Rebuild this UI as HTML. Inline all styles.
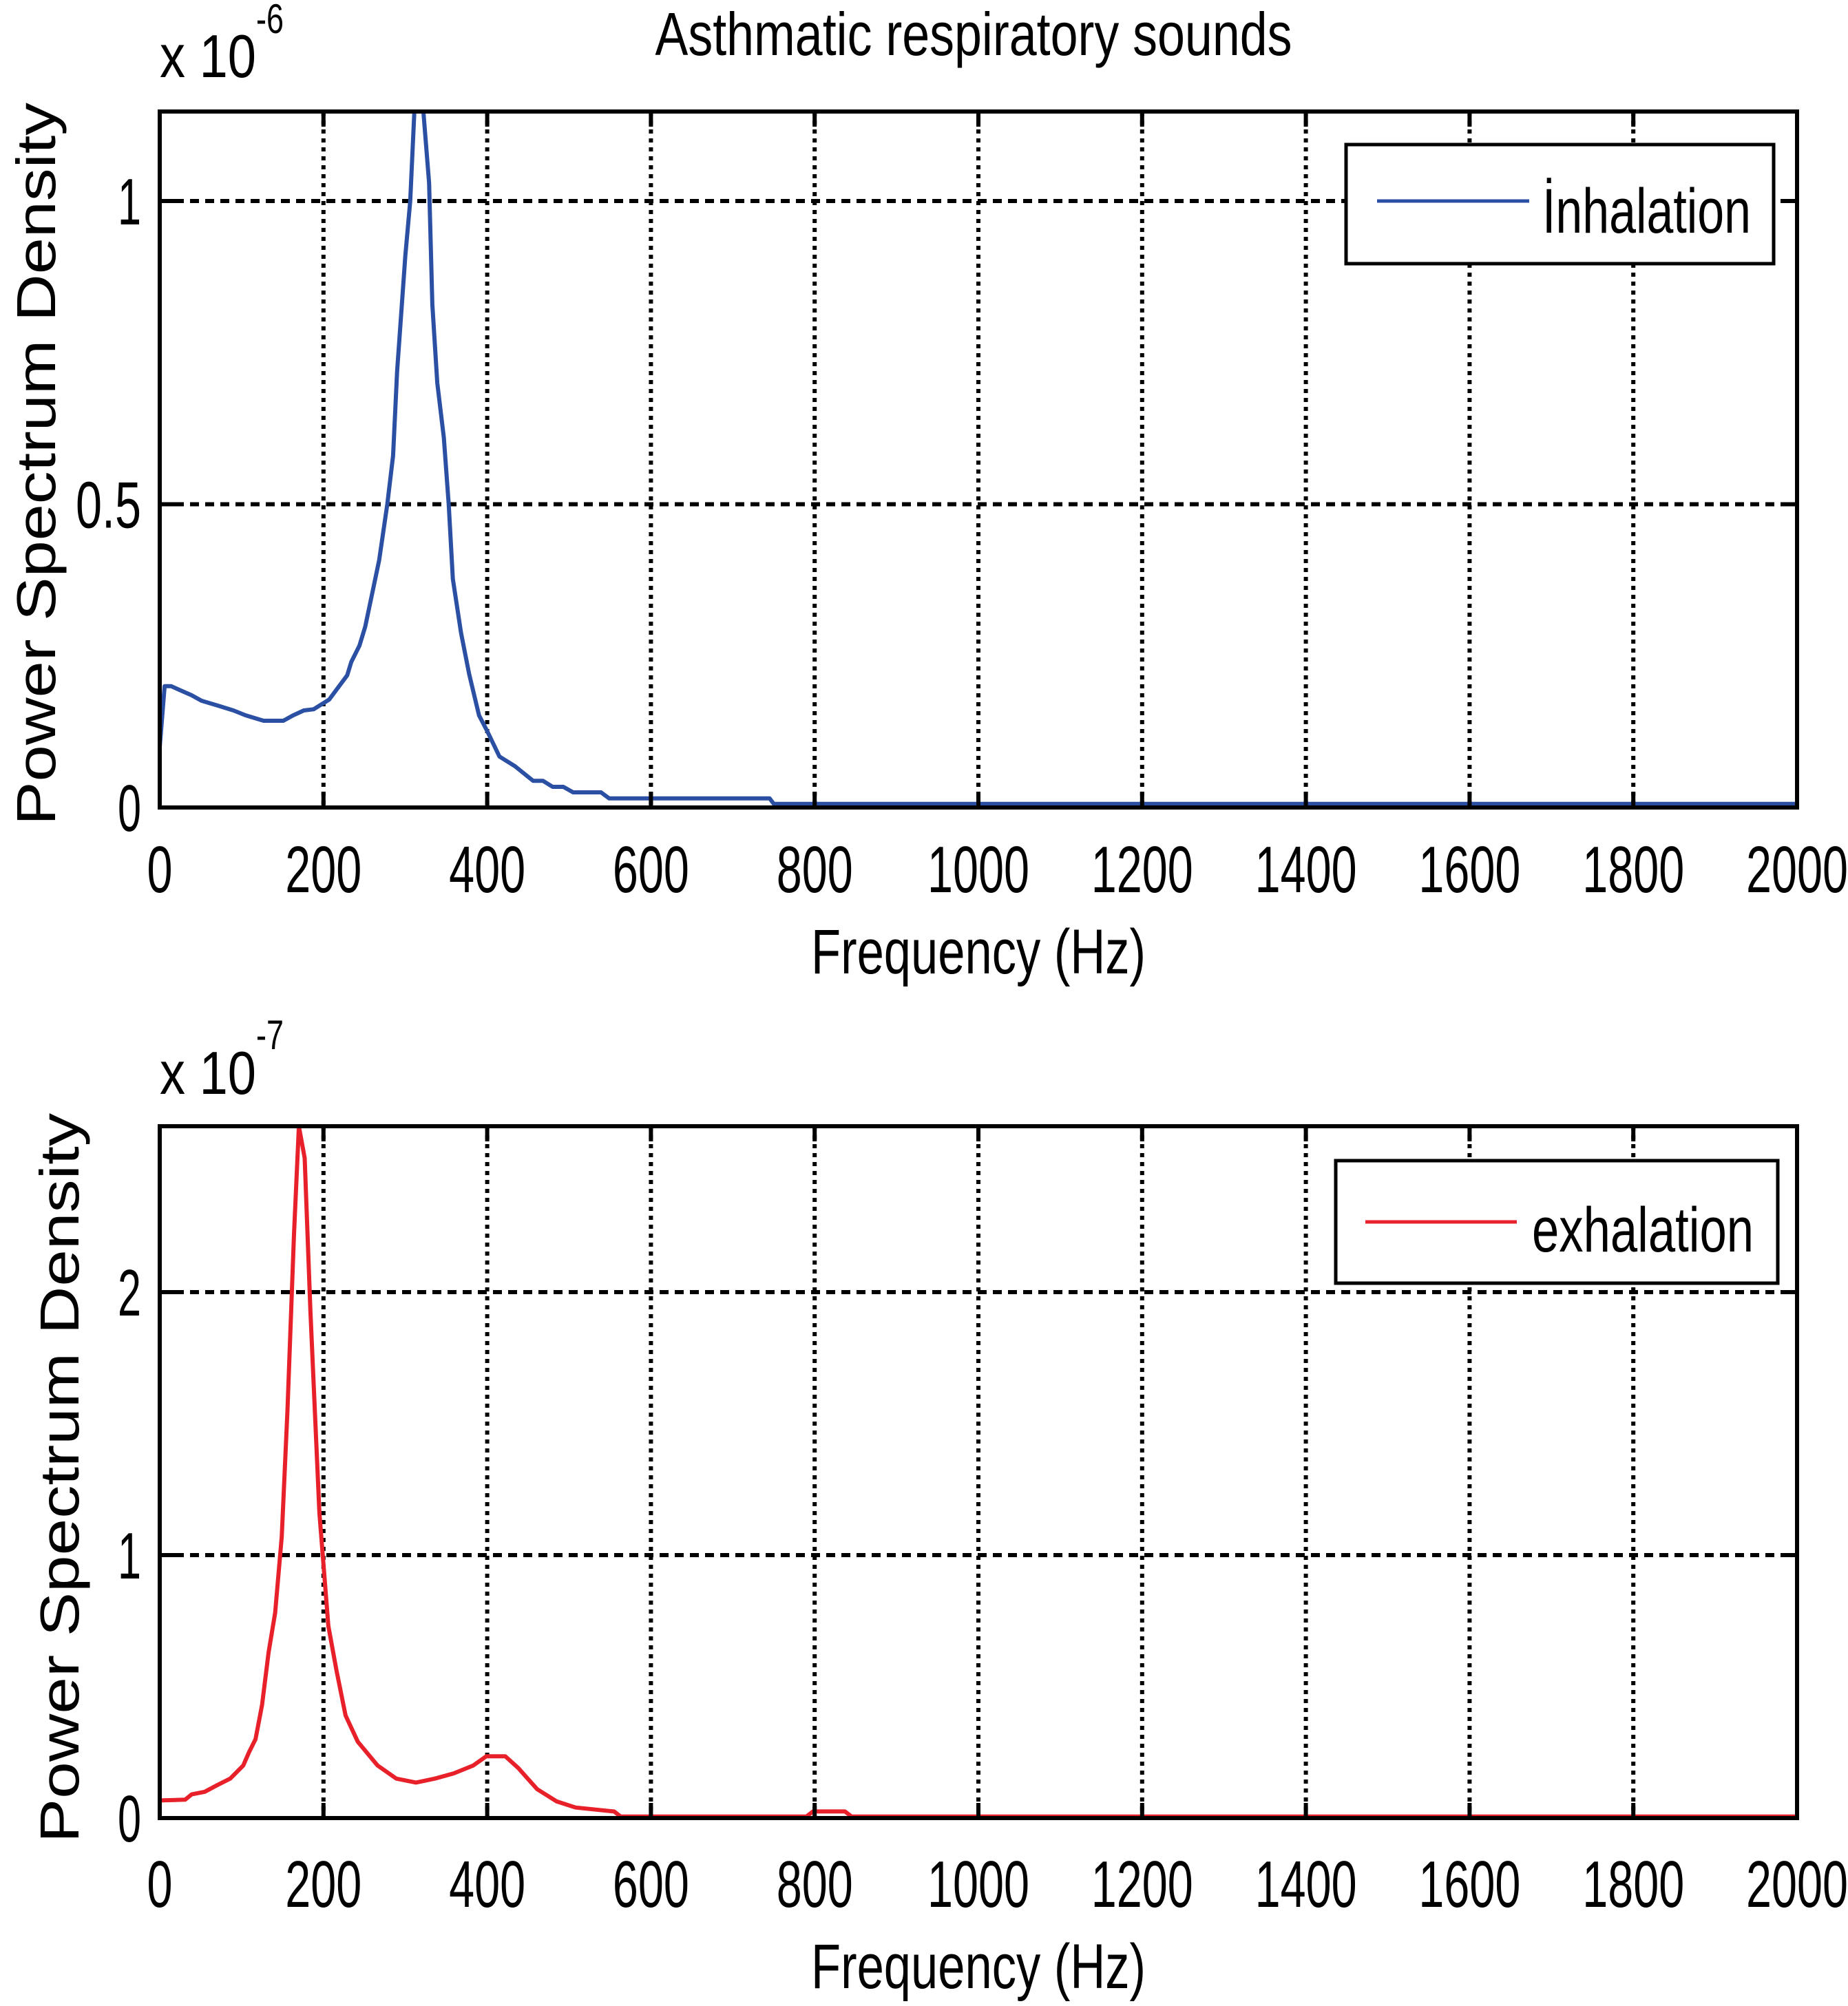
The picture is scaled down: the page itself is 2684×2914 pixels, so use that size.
<!DOCTYPE html>
<html><head><meta charset="utf-8"><style>
html,body{margin:0;padding:0;background:#fff;}
svg{display:block;}
text{font-family:"Liberation Sans",sans-serif;fill:#000;}
</style></head><body>
<svg id="s" width="2684" height="2914" viewBox="0 0 2684 2914" xmlns="http://www.w3.org/2000/svg">
<rect width="2684" height="2914" fill="#fff"/>
<g id="grid"></g>
<polyline id="p1" fill="none" stroke="#2b4fa3" stroke-width="6" stroke-linejoin="round"/>
<polyline id="p2" fill="none" stroke="#e8202a" stroke-width="6" stroke-linejoin="round"/>
<g id="axes"></g>

<text x="1414" y="80" font-size="88" text-anchor="middle" textLength="925" lengthAdjust="spacingAndGlyphs">Asthmatic respiratory sounds</text>
<text x="232" y="112" font-size="88" textLength="140" lengthAdjust="spacingAndGlyphs">x 10</text>
<text x="372" y="48" font-size="60" textLength="40" lengthAdjust="spacingAndGlyphs">-6</text>
<text x="232" y="1589" font-size="88" textLength="140" lengthAdjust="spacingAndGlyphs">x 10</text>
<text x="372" y="1524" font-size="60" textLength="40" lengthAdjust="spacingAndGlyphs">-7</text>

<text transform="translate(80,674) rotate(-90)" font-size="80" text-anchor="middle" textLength="1050" lengthAdjust="spacingAndGlyphs">Power Spectrum Density</text>
<text transform="translate(114,2147) rotate(-90)" font-size="80" text-anchor="middle" textLength="1060" lengthAdjust="spacingAndGlyphs">Power Spectrum Density</text>

<text x="1421" y="1414" font-size="92" text-anchor="middle" textLength="486" lengthAdjust="spacingAndGlyphs">Frequency (Hz)</text>
<text x="1421" y="2888" font-size="92" text-anchor="middle" textLength="486" lengthAdjust="spacingAndGlyphs">Frequency (Hz)</text>

<g id="labels"></g>

<rect x="1955" y="210" width="621" height="173" fill="#fff" stroke="#000" stroke-width="5"/>
<line x1="2000" y1="292" x2="2221" y2="292" stroke="#2b4fa3" stroke-width="5"/>
<text x="2240" y="338" font-size="92" textLength="303" lengthAdjust="spacingAndGlyphs">İnhalation</text>
<rect x="1940" y="1686" width="642" height="178" fill="#fff" stroke="#000" stroke-width="5"/>
<line x1="1983" y1="1775" x2="2203" y2="1775" stroke="#e8202a" stroke-width="5"/>
<text x="2225" y="1818" font-size="92" textLength="322" lengthAdjust="spacingAndGlyphs">exhalation</text>
</svg>
<script>
var NS="http://www.w3.org/2000/svg";
function el(p,t,a,txt){var e=document.createElementNS(NS,t);for(var k in a)e.setAttribute(k,a[k]);if(txt!==undefined)e.textContent=txt;p.appendChild(e);return e;}
var L=232,R=2610;
function X(f){return L+f*(R-L)/2000;}
var plots=[{top:162,bot:1173,pu:881,yt:[[0,"0"],[0.5,"0.5"],[1,"1"]],lab:1296},
           {top:1636,bot:2641,pu:382,yt:[[0,"0"],[1,"1"],[2,"2"]],lab:2770}];
var g=document.getElementById("grid"),ax=document.getElementById("axes"),lb=document.getElementById("labels");
plots.forEach(function(p){
  for(var f=200;f<2000;f+=200){el(g,"line",{x1:X(f),y1:p.top,x2:X(f),y2:p.bot,stroke:"#000","stroke-width":6,"stroke-dasharray":"6 7"});}
  p.yt.forEach(function(t){var y=p.bot-t[0]*p.pu;
    if(t[0]>0)el(g,"line",{x1:L,y1:y,x2:R,y2:y,stroke:"#000","stroke-width":6,"stroke-dasharray":"13 9"});
    el(ax,"line",{x1:L,y1:y,x2:L+22,y2:y,stroke:"#000","stroke-width":6});
    el(ax,"line",{x1:R,y1:y,x2:R-22,y2:y,stroke:"#000","stroke-width":6});
    el(lb,"text",{x:205,y:y+34,"font-size":96,"text-anchor":"end",textLength:t[1].length==3?95:34,lengthAdjust:"spacingAndGlyphs"},t[1]);
  });
  for(var f=0;f<=2000;f+=200){var x=X(f);
    el(ax,"line",{x1:x,y1:p.bot,x2:x,y2:p.bot-22,stroke:"#000","stroke-width":6});
    el(ax,"line",{x1:x,y1:p.top,x2:x,y2:p.top+22,stroke:"#000","stroke-width":6});
    var s=String(f);el(lb,"text",{x:x,y:p.lab,"font-size":96,"text-anchor":"middle",textLength:s.length*37,lengthAdjust:"spacingAndGlyphs"},s);}
  el(ax,"rect",{x:L,y:p.top,width:R-L,height:p.bot-p.top,fill:"none",stroke:"#000","stroke-width":6});
});
var d1=[[0,0.1],[6,0.2],[14,0.2],[24,0.194],[39,0.185],[51,0.176],[71,0.168],[90,0.16],[105,0.152],[127,0.143],[151,0.143],[163,0.152],[176,0.16],[188,0.162],[207,0.178],[229,0.218],[234,0.24],[244,0.267],[251,0.298],[259,0.35],[268,0.408],[278,0.5],[285,0.58],[290,0.72],[300,0.91],[306,1.0],[311,1.15],[322,1.15],[329,1.03],[333,0.83],[339,0.7],[347,0.61],[353,0.5],[358,0.377],[368,0.288],[378,0.22],[390,0.152],[400,0.126],[415,0.084],[434,0.068],[456,0.044],[468,0.044],[480,0.034],[493,0.034],[505,0.025],[539,0.025],[549,0.015],[745,0.015],[750,0.006],[2000,0.006]];
var d2=[[0,0.067],[31,0.07],[39,0.09],[55,0.1],[70,0.125],[86,0.15],[102,0.2],[109,0.25],[117,0.3],[125,0.43],[133,0.63],[141,0.78],[149,1.07],[156,1.55],[164,2.22],[170,2.63],[177,2.51],[184,1.93],[195,1.16],[206,0.73],[216,0.56],[227,0.39],[242,0.29],[266,0.2],[289,0.15],[313,0.135],[336,0.15],[359,0.17],[383,0.2],[399,0.235],[422,0.235],[438,0.19],[461,0.11],[485,0.063],[508,0.04],[555,0.025],[563,0.006],[790,0.006],[798,0.025],[837,0.025],[845,0.006],[2000,0.006]];
function pts(d,p){return d.map(function(q){return X(q[0]).toFixed(1)+","+Math.max(p.top,p.bot-q[1]*p.pu).toFixed(1);}).join(" ");}
document.getElementById("p1").setAttribute("points",pts(d1,plots[0]));
document.getElementById("p2").setAttribute("points",pts(d2,plots[1]));
</script>
</body></html>
